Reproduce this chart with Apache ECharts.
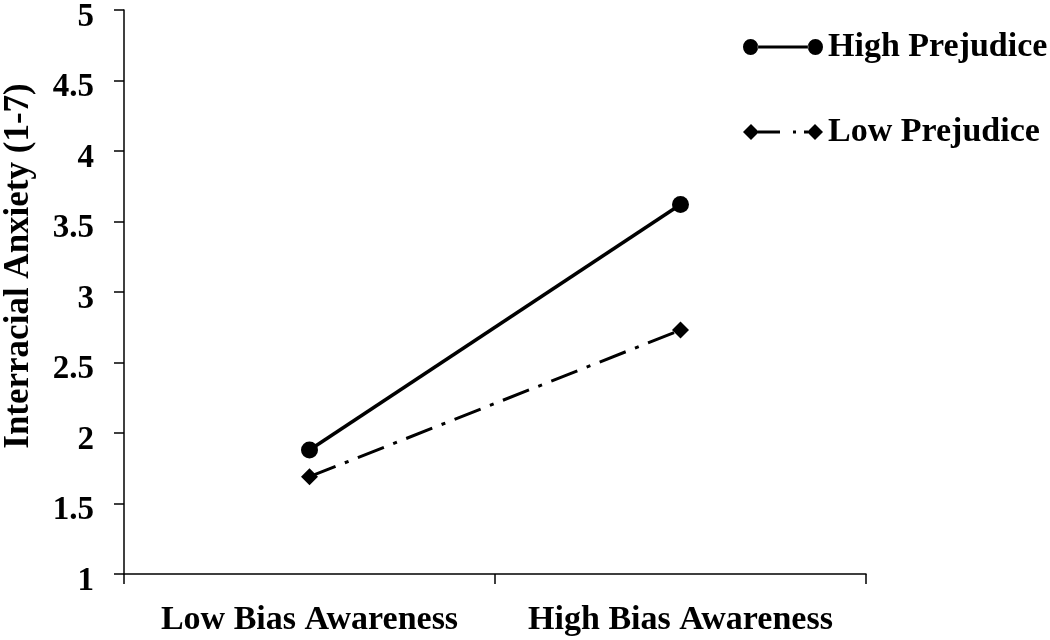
<!DOCTYPE html>
<html>
<head>
<meta charset="utf-8">
<script src="https://cdn.jsdelivr.net/npm/echarts@6/dist/echarts.min.js"></script>
<style>
html,body{margin:0;padding:0;background:#fff;}
#chart{width:1050px;height:640px;}
</style>
</head>
<body>
<div id="chart"></div>
<script>
const categories = ['Low Bias Awareness', 'High Bias Awareness'];
const highPrejudice = [1.88, 3.62];
const lowPrejudice = [1.69, 2.73];
const yTicks = {min: 1, max: 5, interval: 0.5};
const seriesNames = ['High Prejudice', 'Low Prejudice'];

const FONT = '"Liberation Serif", "Times New Roman", serif';
const highIcon = 'path://M0.5,8 A7.5,7.5 0 1,0 15.5,8 A7.5,7.5 0 1,0 0.5,8 Z M15,6.5 L65,6.5 L65,9.5 L15,9.5 Z M64.5,8 A7.5,7.5 0 1,0 79.5,8 A7.5,7.5 0 1,0 64.5,8 Z';
const lowIcon = 'path://M0,8 L8,0 L16,8 L8,16 Z M15,6.5 L37,6.5 L37,9.5 L15,9.5 Z M50,6.5 L53,6.5 L53,9.5 L50,9.5 Z M61,6.5 L65,6.5 L65,9.5 L61,9.5 Z M64,8 L72,0 L80,8 L72,16 Z';

const chart = echarts.init(document.getElementById('chart'));
chart.setOption({
  backgroundColor: '#fff',
  animation: false,
  textStyle: {fontFamily: FONT},
  grid: {left: 124, right: 184, top: 10, bottom: 66, containLabel: false, outerBoundsMode: 'none'},
  legend: {
    orient: 'vertical',
    left: 738,
    top: 22,
    itemWidth: 80,
    itemHeight: 16,
    itemGap: 45,
    symbolKeepAspect: false,
    textStyle: {fontFamily: FONT, fontWeight: 'bold', fontSize: 34, color: '#000', lineHeight: 36, padding: [4, 0, 0, 0]},
    data: [
      {name: seriesNames[0], icon: highIcon},
      {name: seriesNames[1], icon: lowIcon}
    ]
  },
  xAxis: {
    type: 'category',
    data: categories,
    boundaryGap: true,
    axisLine: {lineStyle: {color: '#000', width: 1.5}},
    axisTick: {show: true, length: 10, inside: false, lineStyle: {color: '#000', width: 1.5}},
    axisLabel: {fontFamily: FONT, fontWeight: 'bold', fontSize: 34, color: '#000', margin: 29, interval: 0}
  },
  yAxis: {
    type: 'value',
    min: yTicks.min,
    max: yTicks.max,
    interval: yTicks.interval,
    name: 'Interracial Anxiety (1-7)',
    nameLocation: 'middle',
    nameGap: 88,
    nameTextStyle: {fontFamily: FONT, fontWeight: 'bold', fontSize: 35, color: '#000', padding: [0, 0, 0, 52]},
    splitLine: {show: false},
    axisLine: {show: true, lineStyle: {color: '#000', width: 1.5}},
    axisTick: {show: true, length: 10, lineStyle: {color: '#000', width: 1.5}},
    axisLabel: {fontFamily: FONT, fontWeight: 'bold', fontSize: 33, color: '#000', margin: 30, verticalAlign: 'top', lineHeight: 14}
  },
  series: [
    {
      name: seriesNames[0],
      type: 'line',
      data: highPrejudice,
      symbol: 'circle',
      symbolSize: 17,
      itemStyle: {color: '#000'},
      lineStyle: {color: '#000', width: 3.5, type: 'solid'}
    },
    {
      name: seriesNames[1],
      type: 'line',
      data: lowPrejudice,
      symbol: 'diamond',
      symbolSize: 17,
      itemStyle: {color: '#000'},
      lineStyle: {color: '#000', width: 3, type: [28, 10, 4, 10]}
    }
  ]
});
</script>
</body>
</html>
